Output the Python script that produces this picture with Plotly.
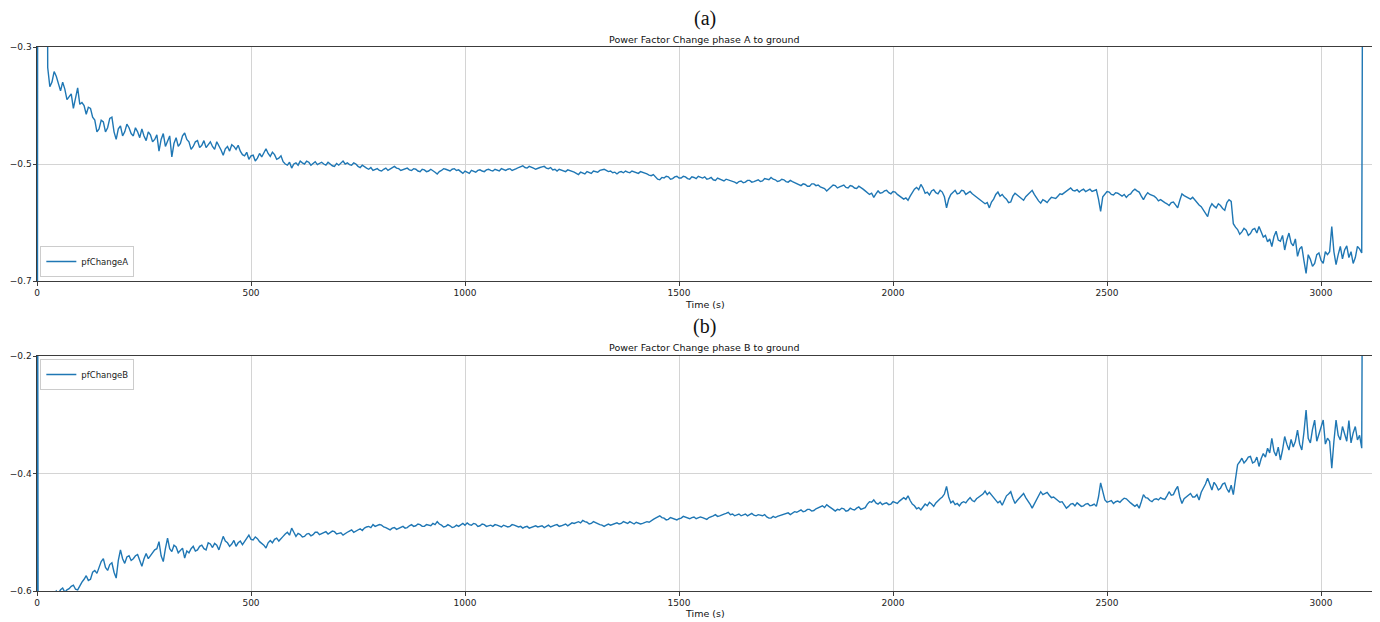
import plotly.graph_objects as go

# ---------------- data ----------------
series_a_name = "pfChangeA"
series_b_name = "pfChangeB"
title_a = "Power Factor Change phase A to ground"
title_b = "Power Factor Change phase B to ground"
panel_labels = ["(a)", "(b)"]
x_label = "Time (s)"
x_ticks = [0, 500, 1000, 1500, 2000, 2500, 3000]
y_ticks_a = [-0.7, -0.5, -0.3]
y_ticks_b = [-0.6, -0.4, -0.2]
x_max = 3119

# start-up transient samples (time, value); values outside the axis range
head_t_a = [0, 1, 2, 22]
head_v_a = [-0.655, -0.9, 0.6, 0.6]
head_t_b = [0, 1, 3, 15]
head_v_b = [-0.8, 0.3, -0.9, -0.9]

# samples every 10 s starting at t = 25 s
body_start = 25
body_step = 10
body_v_a = [
    -0.335, -0.360, -0.350, -0.375, -0.372, -0.385, -0.405, -0.370, -0.395, -0.415,
    -0.405, -0.425, -0.440, -0.428, -0.438, -0.420, -0.458, -0.435, -0.445, -0.438,
    -0.452, -0.445, -0.440, -0.460, -0.450, -0.458, -0.478, -0.448, -0.462, -0.488,
    -0.455, -0.465, -0.447, -0.462, -0.470, -0.460, -0.468, -0.472, -0.462, -0.475,
    -0.468, -0.485, -0.470, -0.467, -0.475, -0.478, -0.486, -0.492, -0.485, -0.490,
    -0.488, -0.474, -0.487, -0.484, -0.490, -0.496, -0.502, -0.507, -0.498, -0.495,
    -0.500, -0.497, -0.499, -0.501, -0.497, -0.502, -0.500, -0.504, -0.502, -0.495,
    -0.498, -0.502, -0.500, -0.506, -0.505, -0.509, -0.511, -0.508, -0.512, -0.507,
    -0.509, -0.504, -0.508, -0.510, -0.507, -0.511, -0.509, -0.513, -0.510, -0.512,
    -0.511, -0.517, -0.511, -0.509, -0.512, -0.508, -0.510, -0.516, -0.514, -0.511,
    -0.514, -0.510, -0.513, -0.509, -0.512, -0.510, -0.508, -0.511, -0.508, -0.510,
    -0.506, -0.503, -0.507, -0.505, -0.509, -0.506, -0.504, -0.508, -0.510, -0.512,
    -0.510, -0.513, -0.511, -0.514, -0.518, -0.515, -0.513, -0.516, -0.513, -0.511,
    -0.509, -0.513, -0.515, -0.517, -0.513, -0.512, -0.515, -0.513, -0.516, -0.514,
    -0.517, -0.520, -0.523, -0.527, -0.524, -0.522, -0.525, -0.521, -0.524, -0.522,
    -0.526, -0.523, -0.521, -0.524, -0.526, -0.523, -0.528, -0.526, -0.529, -0.527,
    -0.530, -0.533, -0.529, -0.531, -0.528, -0.530, -0.527, -0.529, -0.526, -0.523,
    -0.527, -0.529, -0.527, -0.531, -0.530, -0.533, -0.537, -0.535, -0.538, -0.534,
    -0.536, -0.540, -0.546, -0.540, -0.537, -0.539, -0.536, -0.541, -0.538, -0.542,
    -0.540, -0.546, -0.552, -0.557, -0.546, -0.549, -0.545, -0.551, -0.548, -0.555,
    -0.560, -0.562, -0.548, -0.540, -0.535, -0.550, -0.553, -0.544, -0.551, -0.548,
    -0.575, -0.552, -0.545, -0.550, -0.546, -0.549, -0.551, -0.556, -0.562, -0.568,
    -0.575, -0.560, -0.548, -0.552, -0.560, -0.565, -0.550, -0.556, -0.562, -0.552,
    -0.545, -0.558, -0.567, -0.563, -0.561, -0.558, -0.555, -0.552, -0.547, -0.541,
    -0.546, -0.548, -0.543, -0.545, -0.547, -0.544, -0.581, -0.551, -0.548, -0.553,
    -0.550, -0.555, -0.557, -0.551, -0.543, -0.548, -0.561, -0.549, -0.553, -0.558,
    -0.561, -0.566, -0.571, -0.565, -0.575, -0.551, -0.556, -0.560, -0.562, -0.570,
    -0.578, -0.590, -0.568, -0.575, -0.571, -0.579, -0.561, -0.602, -0.612, -0.616,
    -0.613, -0.619, -0.610, -0.607, -0.625, -0.633, -0.641, -0.615, -0.632, -0.647,
    -0.618, -0.640, -0.658, -0.641, -0.687, -0.663, -0.670, -0.652, -0.670, -0.655,
    -0.607, -0.672, -0.641, -0.647, -0.660, -0.670, -0.641, -0.652,
]
# in-between samples at t = 30, 40, ... (5 s after each sample above)
mid_v_a = [
    -0.368, -0.342, -0.365, -0.360, -0.390, -0.380, -0.388, -0.398, -0.400, -0.403,
    -0.420, -0.445, -0.425, -0.445, -0.422, -0.445, -0.440, -0.452, -0.432, -0.448,
    -0.438, -0.455, -0.452, -0.445, -0.462, -0.450, -0.458, -0.470, -0.452, -0.465,
    -0.470, -0.452, -0.458, -0.475, -0.462, -0.472, -0.460, -0.466, -0.470, -0.462,
    -0.476, -0.474, -0.478, -0.470, -0.468, -0.484, -0.480, -0.486, -0.495, -0.482,
    -0.480, -0.482, -0.480, -0.492, -0.486, -0.500, -0.497, -0.500, -0.502, -0.498,
    -0.495, -0.502, -0.496, -0.499, -0.500, -0.497, -0.503, -0.499, -0.498, -0.500,
    -0.501, -0.498, -0.504, -0.502, -0.507, -0.506, -0.509, -0.511, -0.509, -0.511,
    -0.506, -0.507, -0.511, -0.508, -0.510, -0.508, -0.512, -0.509, -0.513, -0.509,
    -0.514, -0.513, -0.508, -0.511, -0.509, -0.511, -0.513, -0.512, -0.516, -0.512,
    -0.511, -0.512, -0.510, -0.511, -0.509, -0.512, -0.510, -0.509, -0.511, -0.508,
    -0.505, -0.506, -0.504, -0.507, -0.507, -0.505, -0.507, -0.506, -0.509, -0.509,
    -0.512, -0.510, -0.513, -0.516, -0.514, -0.517, -0.515, -0.512, -0.514, -0.510,
    -0.511, -0.512, -0.514, -0.514, -0.515, -0.514, -0.512, -0.515, -0.513, -0.516,
    -0.519, -0.518, -0.526, -0.523, -0.521, -0.526, -0.522, -0.524, -0.521, -0.525,
    -0.522, -0.525, -0.523, -0.522, -0.525, -0.527, -0.524, -0.528, -0.526, -0.529,
    -0.531, -0.530, -0.532, -0.528, -0.531, -0.528, -0.530, -0.525, -0.527, -0.526,
    -0.530, -0.526, -0.530, -0.528, -0.532, -0.535, -0.534, -0.538, -0.534, -0.537,
    -0.539, -0.542, -0.543, -0.536, -0.541, -0.537, -0.540, -0.537, -0.541, -0.538,
    -0.543, -0.549, -0.550, -0.551, -0.550, -0.546, -0.549, -0.547, -0.552, -0.557,
    -0.558, -0.555, -0.543, -0.544, -0.541, -0.548, -0.546, -0.549, -0.545, -0.556,
    -0.560, -0.548, -0.551, -0.545, -0.552, -0.547, -0.554, -0.559, -0.565, -0.566,
    -0.565, -0.552, -0.555, -0.557, -0.566, -0.555, -0.553, -0.560, -0.556, -0.548,
    -0.552, -0.563, -0.561, -0.566, -0.557, -0.559, -0.551, -0.549, -0.544, -0.545,
    -0.544, -0.545, -0.547, -0.543, -0.545, -0.560, -0.556, -0.547, -0.552, -0.549,
    -0.553, -0.552, -0.553, -0.546, -0.546, -0.555, -0.554, -0.552, -0.555, -0.563,
    -0.564, -0.568, -0.566, -0.570, -0.562, -0.554, -0.559, -0.557, -0.566, -0.573,
    -0.583, -0.575, -0.572, -0.568, -0.576, -0.566, -0.564, -0.608, -0.620, -0.610,
    -0.622, -0.612, -0.618, -0.616, -0.622, -0.628, -0.624, -0.630, -0.622, -0.630,
    -0.635, -0.628, -0.645, -0.665, -0.655, -0.675, -0.655, -0.665, -0.650, -0.650,
    -0.650, -0.655, -0.662, -0.640, -0.650, -0.660, -0.645,
]
body_v_b = [
    -0.640, -0.615, -0.600, -0.598, -0.602, -0.596, -0.590, -0.598, -0.585, -0.574,
    -0.580, -0.565, -0.560, -0.545, -0.565, -0.552, -0.578, -0.530, -0.553, -0.540,
    -0.545, -0.538, -0.558, -0.536, -0.540, -0.530, -0.516, -0.550, -0.510, -0.533,
    -0.525, -0.530, -0.544, -0.535, -0.524, -0.530, -0.522, -0.530, -0.520, -0.519,
    -0.530, -0.507, -0.518, -0.520, -0.524, -0.515, -0.516, -0.505, -0.513, -0.511,
    -0.519, -0.527, -0.514, -0.512, -0.515, -0.507, -0.500, -0.493, -0.507, -0.504,
    -0.507, -0.502, -0.504, -0.500, -0.502, -0.499, -0.501, -0.499, -0.502, -0.505,
    -0.500, -0.496, -0.498, -0.494, -0.493, -0.490, -0.487, -0.489, -0.488, -0.492,
    -0.496, -0.492, -0.493, -0.490, -0.492, -0.487, -0.489, -0.487, -0.490, -0.488,
    -0.485, -0.482, -0.488, -0.490, -0.489, -0.491, -0.490, -0.485, -0.484, -0.488,
    -0.486, -0.489, -0.487, -0.489, -0.490, -0.488, -0.491, -0.489, -0.490, -0.488,
    -0.491, -0.493, -0.490, -0.492, -0.489, -0.490, -0.492, -0.488, -0.489, -0.487,
    -0.489, -0.486, -0.487, -0.485, -0.482, -0.480, -0.483, -0.485, -0.484, -0.487,
    -0.490, -0.486, -0.487, -0.484, -0.485, -0.483, -0.482, -0.486, -0.484, -0.485,
    -0.482, -0.480, -0.476, -0.472, -0.476, -0.478, -0.476, -0.479, -0.476, -0.474,
    -0.477, -0.474, -0.476, -0.475, -0.478, -0.474, -0.470, -0.472, -0.469, -0.466,
    -0.469, -0.471, -0.472, -0.469, -0.470, -0.471, -0.470, -0.472, -0.474, -0.476,
    -0.475, -0.472, -0.470, -0.467, -0.468, -0.466, -0.462, -0.464, -0.461, -0.463,
    -0.458, -0.455, -0.453, -0.458, -0.464, -0.462, -0.460, -0.463, -0.461, -0.459,
    -0.461, -0.458, -0.448, -0.445, -0.452, -0.453, -0.450, -0.452, -0.449, -0.447,
    -0.441, -0.438, -0.452, -0.460, -0.462, -0.452, -0.449, -0.456, -0.446, -0.440,
    -0.422, -0.450, -0.453, -0.455, -0.448, -0.445, -0.446, -0.443, -0.438, -0.430,
    -0.432, -0.442, -0.450, -0.454, -0.438, -0.431, -0.451, -0.442, -0.434, -0.446,
    -0.459, -0.445, -0.431, -0.434, -0.437, -0.440, -0.445, -0.448, -0.459, -0.452,
    -0.455, -0.453, -0.455, -0.451, -0.454, -0.456, -0.416, -0.445, -0.448, -0.451,
    -0.447, -0.445, -0.443, -0.450, -0.456, -0.459, -0.436, -0.442, -0.448, -0.443,
    -0.441, -0.444, -0.431, -0.436, -0.422, -0.451, -0.440, -0.434, -0.440, -0.445,
    -0.425, -0.408, -0.428, -0.420, -0.425, -0.416, -0.432, -0.436, -0.385, -0.374,
    -0.378, -0.371, -0.380, -0.388, -0.366, -0.357, -0.340, -0.370, -0.377, -0.337,
    -0.360, -0.355, -0.326, -0.360, -0.292, -0.348, -0.309, -0.334, -0.309, -0.340,
    -0.391, -0.309, -0.343, -0.334, -0.310, -0.331, -0.343, -0.357,
]
mid_v_b = [
    -0.625, -0.606, -0.604, -0.595, -0.598, -0.592, -0.597, -0.590, -0.580, -0.582,
    -0.568, -0.570, -0.550, -0.560, -0.555, -0.568, -0.548, -0.545, -0.542, -0.548,
    -0.540, -0.548, -0.545, -0.545, -0.535, -0.528, -0.540, -0.528, -0.528, -0.522,
    -0.535, -0.527, -0.532, -0.528, -0.532, -0.524, -0.528, -0.518, -0.526, -0.522,
    -0.518, -0.515, -0.524, -0.514, -0.518, -0.521, -0.510, -0.512, -0.508, -0.516,
    -0.522, -0.518, -0.518, -0.510, -0.510, -0.503, -0.505, -0.500, -0.502, -0.508,
    -0.503, -0.506, -0.500, -0.504, -0.500, -0.503, -0.498, -0.503, -0.501, -0.502,
    -0.498, -0.500, -0.495, -0.497, -0.491, -0.492, -0.490, -0.487, -0.491, -0.494,
    -0.493, -0.495, -0.491, -0.493, -0.489, -0.490, -0.486, -0.490, -0.487, -0.489,
    -0.487, -0.486, -0.491, -0.487, -0.492, -0.488, -0.487, -0.488, -0.487, -0.485,
    -0.490, -0.486, -0.490, -0.488, -0.487, -0.490, -0.488, -0.491, -0.487, -0.490,
    -0.490, -0.491, -0.493, -0.490, -0.491, -0.489, -0.490, -0.491, -0.488, -0.490,
    -0.487, -0.489, -0.484, -0.483, -0.484, -0.482, -0.486, -0.482, -0.486, -0.488,
    -0.488, -0.488, -0.485, -0.486, -0.482, -0.485, -0.484, -0.483, -0.486, -0.483,
    -0.483, -0.478, -0.474, -0.475, -0.479, -0.475, -0.478, -0.477, -0.473, -0.476,
    -0.475, -0.477, -0.474, -0.477, -0.475, -0.472, -0.473, -0.470, -0.468, -0.470,
    -0.472, -0.469, -0.470, -0.472, -0.468, -0.472, -0.471, -0.470, -0.476, -0.473,
    -0.473, -0.471, -0.468, -0.470, -0.465, -0.464, -0.465, -0.461, -0.464, -0.460,
    -0.457, -0.458, -0.456, -0.461, -0.461, -0.459, -0.464, -0.459, -0.462, -0.457,
    -0.459, -0.452, -0.449, -0.450, -0.449, -0.451, -0.453, -0.448, -0.451, -0.444,
    -0.444, -0.446, -0.455, -0.458, -0.457, -0.455, -0.452, -0.450, -0.443, -0.435,
    -0.440, -0.447, -0.451, -0.450, -0.450, -0.441, -0.448, -0.440, -0.435, -0.436,
    -0.437, -0.446, -0.447, -0.446, -0.435, -0.442, -0.446, -0.438, -0.441, -0.452,
    -0.452, -0.438, -0.436, -0.432, -0.441, -0.443, -0.449, -0.453, -0.456, -0.451,
    -0.450, -0.456, -0.452, -0.455, -0.452, -0.440, -0.432, -0.449, -0.446, -0.448,
    -0.449, -0.442, -0.447, -0.453, -0.453, -0.448, -0.441, -0.446, -0.444, -0.445,
    -0.443, -0.438, -0.437, -0.428, -0.440, -0.443, -0.437, -0.440, -0.436, -0.432,
    -0.418, -0.420, -0.415, -0.428, -0.418, -0.426, -0.420, -0.410, -0.380, -0.382,
    -0.372, -0.382, -0.372, -0.375, -0.372, -0.365, -0.362, -0.355, -0.360, -0.350,
    -0.342, -0.345, -0.350, -0.330, -0.340, -0.325, -0.345, -0.322, -0.350, -0.345,
    -0.345, -0.335, -0.320, -0.345, -0.348, -0.320, -0.335,
]

# final transient sample
tail_t = [3100]
tail_v_a = [0.6]
tail_v_b = [0.6]

# ---------------- build series ----------------
def build(head_t, head_v, body_v, mid_v, tail_v):
    pts = list(zip(head_t, head_v))
    pts += [(body_start + body_step * i, v) for i, v in enumerate(body_v)]
    pts += [(body_start + body_step // 2 + body_step * i, v) for i, v in enumerate(mid_v)]
    pts.sort(key=lambda p: p[0])
    pts += list(zip(tail_t, tail_v))
    return [p[0] for p in pts], [p[1] for p in pts]

ta, va = build(head_t_a, head_v_a, body_v_a, mid_v_a, tail_v_a)
tb, vb = build(head_t_b, head_v_b, body_v_b, mid_v_b, tail_v_b)

LINE = "#1f77b4"
AX = "#3c3c3c"
GRID = "#d4d4d4"
FONT = "DejaVu Sans"

fig = go.Figure()
fig.add_trace(go.Scatter(x=ta, y=va, mode="lines", name=series_a_name,
                         line=dict(color=LINE, width=1.4), xaxis="x", yaxis="y",
                         legend="legend"))
fig.add_trace(go.Scatter(x=tb, y=vb, mode="lines", name=series_b_name,
                         line=dict(color=LINE, width=1.4), xaxis="x2", yaxis="y2",
                         legend="legend2"))

H_TOTAL = 544.0  # plot-area height in px (paper units)
def py(pix):
    return (591 - pix) / H_TOTAL

common_x = dict(range=[0, x_max], tickvals=x_ticks, showgrid=True, gridcolor=GRID,
                gridwidth=1, showline=True, linecolor=AX, linewidth=1, mirror=True,
                ticks="outside", ticklen=3.5, tickcolor=AX, zeroline=False,
                automargin=False,
                tickfont=dict(family=FONT, size=9, color="#222"))
common_y = dict(showgrid=True, gridcolor=GRID, gridwidth=1, showline=True,
                linecolor=AX, linewidth=1, mirror=True, ticks="outside", ticklen=3.5,
                tickcolor=AX, zeroline=False, tickformat=".1f", automargin=False,
                ticklabelstandoff=-1,
                tickfont=dict(family=FONT, size=9, color="#222"))

fig.update_layout(
    width=1372, height=614,
    margin=dict(l=29, r=8, t=39, b=31, autoexpand=False),
    paper_bgcolor="white", plot_bgcolor="white",
    font=dict(family=FONT, size=9, color="#222"),
    xaxis=dict(domain=[0, 1], anchor="y", **common_x),
    yaxis=dict(domain=[py(281), 1], anchor="x", range=[-0.7, -0.3],
               tickvals=y_ticks_a, **common_y),
    xaxis2=dict(domain=[0, 1], anchor="y2", **common_x),
    yaxis2=dict(domain=[0, py(356)], anchor="x2", range=[-0.6, -0.2],
                tickvals=y_ticks_b, **common_y),
    legend=dict(x=0.0025, y=py(277), xanchor="left", yanchor="bottom",
                bgcolor="white", bordercolor="#cccccc", borderwidth=1,
                font=dict(family=FONT, size=8.5, color="#222"),
                itemwidth=30, tracegroupgap=0),
    legend2=dict(x=0.0025, y=py(359), xanchor="left", yanchor="top",
                 bgcolor="white", bordercolor="#cccccc", borderwidth=1,
                 font=dict(family=FONT, size=8.5, color="#222"),
                 itemwidth=30, tracegroupgap=0),
    showlegend=True,
)

annots = [
    (panel_labels[0], py(18), "Liberation Serif", 20),
    (title_a, py(39), FONT, 9.5),
    (x_label, py(304), FONT, 9.5),
    (panel_labels[1], py(326), "Liberation Serif", 20),
    (title_b, py(348), FONT, 9.5),
    (x_label, py(613), FONT, 9.5),
]
for text, yy, fam, sz in annots:
    fig.add_annotation(text=text, x=0.5, y=yy, xref="paper", yref="paper",
                       xanchor="center", yanchor="middle", showarrow=False,
                       font=dict(family=fam, size=sz, color="#111"))

fig.write_html("out.html")
